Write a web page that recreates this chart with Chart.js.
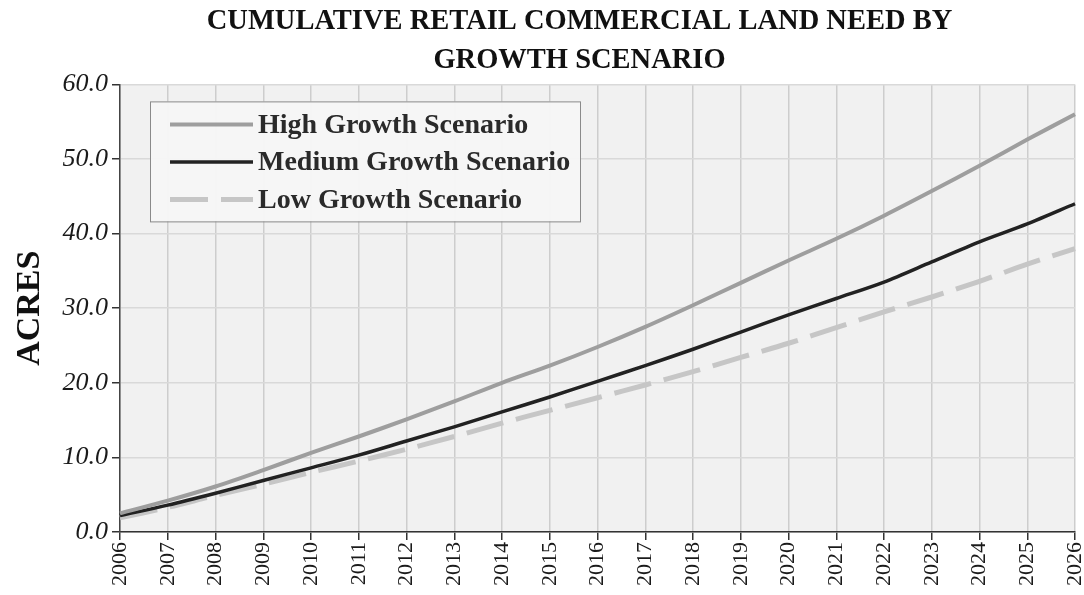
<!DOCTYPE html>
<html>
<head>
<meta charset="utf-8">
<script src="https://cdn.jsdelivr.net/npm/chart.js@4.4.1/dist/chart.umd.min.js"></script>
<style>
  html, body { margin: 0; padding: 0; background: #ffffff; }
  #wrap { width: 1084px; height: 595px; position: relative; }
</style>
</head>
<body>
<div id="wrap"><canvas id="c" width="1084" height="595"></canvas></div>
<script>
// Years on the horizontal axis
const years = ['2006','2007','2008','2009','2010','2011','2012','2013','2014','2015','2016',
               '2017','2018','2019','2020','2021','2022','2023','2024','2025','2026'];

// Cumulative retail commercial land need (acres) per scenario
const highGrowth   = [2.5, 4.2, 6.1, 8.3, 10.6, 12.8, 15.1, 17.5, 20.0, 22.3, 24.8,
                      27.5, 30.4, 33.4, 36.4, 39.3, 42.4, 45.7, 49.1, 52.6, 56.0];
const mediumGrowth = [2.2, 3.6, 5.2, 6.9, 8.6, 10.3, 12.2, 14.1, 16.1, 18.1, 20.2,
                      22.3, 24.5, 26.8, 29.1, 31.3, 33.5, 36.2, 38.9, 41.3, 44.0];
const lowGrowth    = [1.9, 3.3, 4.9, 6.4, 8.0, 9.5, 11.1, 12.8, 14.6, 16.3, 18.0,
                      19.7, 21.5, 23.4, 25.3, 27.4, 29.5, 31.5, 33.6, 35.9, 38.0];

const seriesNames = ['High Growth Scenario', 'Medium Growth Scenario', 'Low Growth Scenario'];
const titleLines = ['CUMULATIVE RETAIL COMMERCIAL LAND NEED BY', 'GROWTH SCENARIO'];
const yTitle = 'ACRES';

const SERIF = '"Liberation Serif", "Times New Roman", serif';

// Grey plot background
const plotBackground = {
  id: 'plotBackground',
  beforeDraw(chart) {
    const { ctx, chartArea: a } = chart;
    ctx.save();
    ctx.fillStyle = '#f1f1f1';
    ctx.fillRect(a.left, a.top, a.right - a.left, a.bottom - a.top);
    ctx.restore();
  }
};

// Widen the title block slightly to the left so the heading sits a bit left of the plot centre
const titleShift = {
  id: 'titleShift',
  afterLayout(chart) {
    const t = chart.titleBlock;
    if (t) { t.left = chart.chartArea.left - 36; }
  }
};

// Boxed legend drawn inside the plot, top-left
const insideLegend = {
  id: 'insideLegend',
  afterDatasetsDraw(chart) {
    const { ctx, chartArea: a } = chart;
    const x0 = a.left + 30, y0 = a.top + 17, w = 430, h = 120;
    ctx.save();
    ctx.fillStyle = 'rgba(246,246,246,0.97)';
    ctx.fillRect(x0, y0, w, h);
    ctx.strokeStyle = '#8a8a8a';
    ctx.lineWidth = 1;
    ctx.strokeRect(x0 + 0.5, y0 + 0.5, w, h);
    chart.data.datasets.forEach((ds, i) => {
      const cy = y0 + 23 + i * 37.5;
      ctx.beginPath();
      ctx.strokeStyle = ds.borderColor;
      ctx.lineWidth = ds.borderWidth;
      ctx.setLineDash(ds.borderDash || []);
      ctx.moveTo(x0 + 20, cy);
      ctx.lineTo(x0 + 103, cy);
      ctx.stroke();
      ctx.setLineDash([]);
      ctx.fillStyle = '#2a2a2a';
      ctx.font = 'bold 28px ' + SERIF;
      ctx.textBaseline = 'middle';
      ctx.textAlign = 'left';
      ctx.fillText(ds.label, x0 + 108, cy + 1);
    });
    ctx.restore();
  }
};

new Chart(document.getElementById('c'), {
  type: 'line',
  data: {
    labels: years,
    datasets: [
      { label: seriesNames[0], data: highGrowth, borderColor: '#9e9e9e', borderWidth: 4 },
      { label: seriesNames[1], data: mediumGrowth, borderColor: '#222222', borderWidth: 3.5 },
      { label: seriesNames[2], data: lowGrowth, borderColor: '#c6c6c6', borderWidth: 5, borderDash: [38, 13] }
    ]
  },
  options: {
    responsive: false,
    animation: false,
    layout: { padding: { top: 0, right: 9, bottom: 0, left: 0 } },
    elements: {
      point: { radius: 0 },
      line: { tension: 0.3, borderCapStyle: 'butt', fill: false }
    },
    plugins: {
      legend: { display: false },
      tooltip: { enabled: false },
      title: {
        display: true,
        fullSize: false,
        text: titleLines,
        color: '#111111',
        font: { family: SERIF, size: 28.5, weight: 'bold', lineHeight: 1.34 },
        padding: { top: 3, bottom: 5 }
      }
    },
    scales: {
      x: {
        offset: false,
        grid: { color: '#cdcdcd', lineWidth: 1.5, tickColor: '#333', tickLength: 8, drawTicks: true },
        border: { color: '#333', width: 1.5 },
        ticks: {
          maxRotation: 90, minRotation: 90, autoSkip: false,
          color: '#1a1a1a', padding: 2,
          font: { family: SERIF, size: 22 }
        },
        afterFit(s) { s.height = 63; s.paddingRight = 0; s.paddingLeft = 0; }
      },
      y: {
        min: 0, max: 60,
        grid: { color: '#d9d9d9', lineWidth: 1.5, tickColor: '#333', tickLength: 8 },
        border: { color: '#444', width: 1.5 },
        ticks: {
          stepSize: 10, color: '#1a1a1a', padding: 4,
          font: { family: SERIF, size: 26, style: 'italic' },
          callback: v => v.toFixed(1)
        },
        title: {
          display: true, text: yTitle, color: '#111111',
          font: { family: SERIF, size: 34, weight: 'bold' },
          padding: { top: 10, bottom: 0 }
        },
        afterFit(s) { s.width = 120; }
      }
    }
  },
  plugins: [plotBackground, titleShift, insideLegend]
});
</script>
</body>
</html>
